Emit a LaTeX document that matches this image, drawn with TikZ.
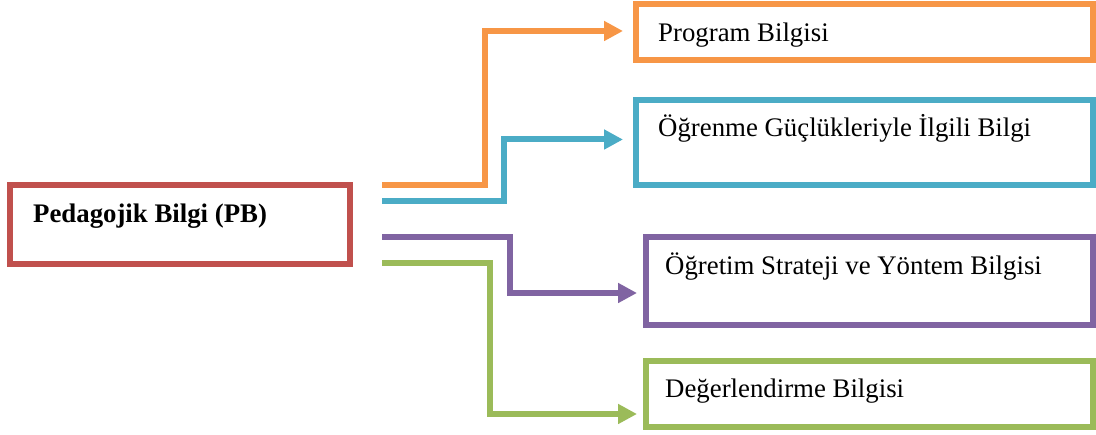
\documentclass[tikz,border=0pt]{standalone}
\usepackage{fontspec}
\setmainfont{Liberation Serif}
\usetikzlibrary{arrows.meta,calc}
\definecolor{cred}{HTML}{C0504D}
\definecolor{corange}{HTML}{F79646}
\definecolor{cblue}{HTML}{4BACC6}
\definecolor{cpurple}{HTML}{8064A2}
\definecolor{cgreen}{HTML}{9BBB59}
\begin{document}
\begin{tikzpicture}[x=1pt,y=-1pt,
  box/.style={draw,line width=6.8pt,rectangle,inner sep=0pt,outer sep=0pt},
  lbl/.style={anchor=base west,inner sep=0pt,font=\fontsize{26.8}{31}\selectfont},
  blbl/.style={anchor=base west,inner sep=0pt,font=\fontsize{26.8}{31}\selectfont\bfseries},
  conn/.style={line width=6pt,line join=miter,-{Triangle[length=19pt,width=19pt]}}]
\useasboundingbox (0,0) rectangle (1096,435);
% boxes
\node[box,draw=cred,minimum width=340pt,minimum height=79pt] (pb) at (180,224.5) {};
\node[blbl] (pbt) at (33,223) {Pedagojik Bilgi (PB)};
\node[box,draw=corange,minimum width=457pt,minimum height=56pt] (prog) at (864.5,32) {};
\node[lbl] (progt) at (658,42) {Program Bilgisi};
\node[box,draw=cblue,minimum width=457pt,minimum height=85pt] (ogr) at (864.5,142.5) {};
\node[lbl] (ogrt) at (658,137) {Öğrenme Güçlükleriyle İlgili Bilgi};
\node[box,draw=cpurple,minimum width=447pt,minimum height=88pt] (ogt) at (869.5,281) {};
\node[lbl] (ogtt) at (665,275) {Öğretim Strateji ve Yöntem Bilgisi};
\node[box,draw=cgreen,minimum width=447pt,minimum height=66pt] (deg) at (869.5,394) {};
\node[lbl] (degt) at (665,398) {Değerlendirme Bilgisi};
% connector starts
\coordinate (s1) at (382,185.5);
\coordinate (s2) at (382,201);
\coordinate (s3) at (382,237);
\coordinate (s4) at (382,263);
% connectors
\draw[conn,corange] (s1) -- ++(102.5,0) |- ($(prog.west)+(-13,-1)$);
\draw[conn,cblue] (s2) -- ++(121.5,0) |- ($(ogr.west)+(-13,-3)$);
\draw[conn,cpurple] (s3) -- ++(127.5,0) |- ($(ogt.west)+(-9,12)$);
\draw[conn,cgreen] (s4) -- ++(107.5,0) |- ($(deg.west)+(-9,20)$);
\end{tikzpicture}
\end{document}
